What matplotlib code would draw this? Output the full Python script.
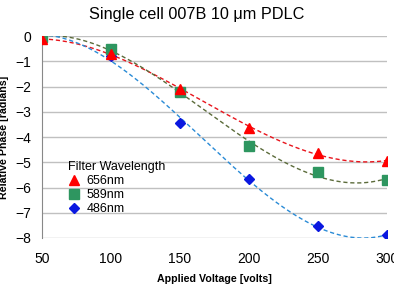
import numpy as np
import matplotlib
matplotlib.use("Agg")
import matplotlib.pyplot as plt

plt.rcParams['font.family'] = ['Liberation Sans', 'DejaVu Sans']

voltage = [50, 100, 150, 200, 250, 300]
phase_656 = [-0.13, -0.69, -2.08, -3.65, -4.62, -4.95]
phase_589 = [-0.02, -0.52, -2.2, -4.37, -5.38, -5.69]
phase_486 = [0.0, -0.79, -3.46, -5.65, -7.54, -7.89]
labels = ["656nm", "589nm", "486nm"]

fig = plt.figure(figsize=(3.94, 2.96), dpi=100)
ax = fig.add_axes([0.1066, 0.196, 0.876, 0.682])

series = [
    (phase_656, labels[0], '^', 'red', '#e8141c', 7.5),
    (phase_589, labels[1], 's', '#2e9660', '#5b6b3a', 6.5),
    (phase_486, labels[2], 'D', '#0a18e0', '#2a8bd6', 5.5),
]
xs = np.linspace(50, 300, 200)
for y, lab, m, c, lc, ms in series:
    coef = np.polyfit(voltage, y, 3)
    ax.plot(xs, np.polyval(coef, xs), ls=(0, (3, 2)), color=lc, lw=1.0, zorder=2)
for y, lab, m, c, lc, ms in reversed(series):
    ax.plot(voltage, y, ls='none', marker=m, color=c, ms=ms, label=lab, zorder=3)

ax.set_xlim(50, 300)
ax.set_ylim(-8, 0)
ax.set_xticks(voltage)
ax.set_yticks(range(-8, 1))
ax.yaxis.grid(True, color='#c0c0c0', lw=1)
ax.set_axisbelow(True)
for s in ['top', 'right', 'bottom']:
    ax.spines[s].set_visible(False)
ax.spines['left'].set_color('#888888')
ax.tick_params(axis='both', length=0, labelsize=10, colors='black')
ax.tick_params(axis='x', pad=10)
ax.tick_params(axis='y', pad=8)
ax.set_xlabel('Applied Voltage [volts]', fontsize=7.7, fontweight='bold', labelpad=6)
ax.set_ylabel('Relative Phase [radians]', fontsize=7.7, fontweight='bold', labelpad=4)
fig.text(0.5, 1 - 14 / 296, 'Single cell 007B 10 \u03bcm PDLC', fontsize=11.7,
         ha='center', va='center')

h, l = ax.get_legend_handles_labels()
order = [2, 1, 0]
leg = ax.legend([h[i] for i in order], [l[i] for i in order], title='Filter Wavelength',
                loc='upper left', bbox_to_anchor=(0.071, 0.386), frameon=False,
                fontsize=9, title_fontsize=9, handlelength=1.0, handletextpad=0.5,
                labelspacing=0.15, borderpad=0.1, borderaxespad=0)
leg._legend_box.align = 'left'

fig.savefig('out.png', dpi=100)
